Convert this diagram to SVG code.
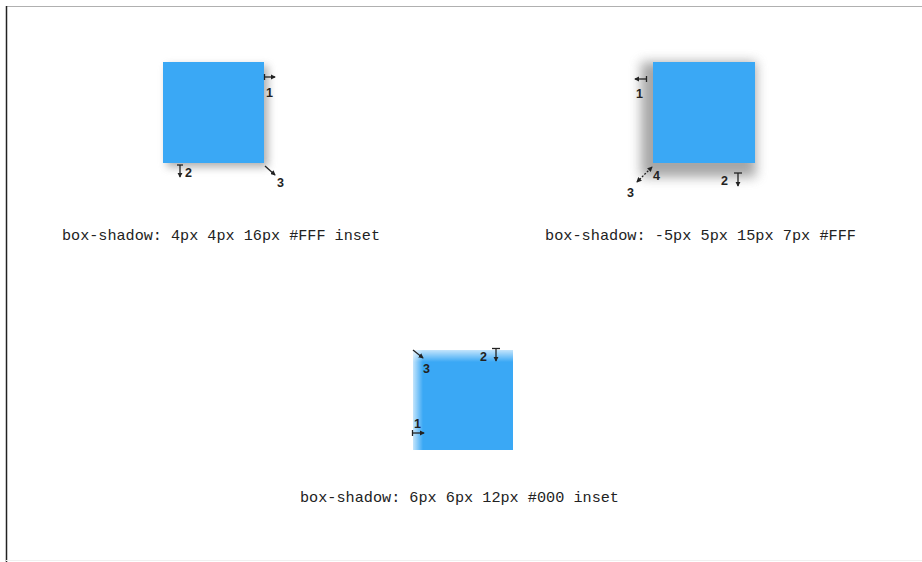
<svg xmlns="http://www.w3.org/2000/svg" width="922" height="562" viewBox="0 0 922 562">
<defs>
<style>
.cap{font-family:"Liberation Mono","DejaVu Sans Mono",monospace;font-size:15px;fill:#222;}
.num{font-family:"Liberation Sans",Arial,sans-serif;font-size:12.5px;font-weight:bold;fill:#222;}
.arr{stroke:#222;stroke-width:1.3;fill:none;}
.box{fill:#3aa8f5;}
</style>
<marker id="ah" viewBox="0 0 6 6" refX="5" refY="3" markerWidth="4" markerHeight="4" orient="auto-start-reverse">
<path d="M0,0 L6,3 L0,6 z" fill="#222"/>
</marker>
<filter id="sh1" x="-30%" y="-30%" width="160%" height="160%">
<feGaussianBlur stdDeviation="4"/>
</filter>
<filter id="sh2" x="-40%" y="-40%" width="180%" height="180%">
<feGaussianBlur stdDeviation="6"/>
</filter>
<linearGradient id="gTop" x1="0" y1="0" x2="0" y2="1">
<stop offset="0" stop-color="#fff" stop-opacity="0.7"/>
<stop offset="1" stop-color="#fff" stop-opacity="0"/>
</linearGradient>
<linearGradient id="gLeft" x1="0" y1="0" x2="1" y2="0">
<stop offset="0" stop-color="#fff" stop-opacity="0.7"/>
<stop offset="1" stop-color="#fff" stop-opacity="0"/>
</linearGradient>
</defs>
<rect width="922" height="562" fill="#fff"/>
<line x1="6" y1="6.5" x2="922" y2="6.5" stroke="#b0b0b0" stroke-width="1"/>
<line x1="6.5" y1="6" x2="6.5" y2="562" stroke="#222" stroke-width="1.5"/>
<line x1="6" y1="560.5" x2="922" y2="560.5" stroke="#f0f0f0" stroke-width="1"/>

<g id="node1">
<rect x="167" y="66" width="101" height="101" fill="#777" opacity="0.6" filter="url(#sh1)"/>
<rect class="box" x="163" y="62" width="101" height="101"/>
<text class="cap" x="62" y="240" textLength="318" lengthAdjust="spacingAndGlyphs">box-shadow: 4px 4px 16px #FFF inset</text>
</g>

<g id="node2">
<rect x="641" y="62" width="115" height="115" fill="#777" opacity="0.65" filter="url(#sh2)"/>
<rect class="box" x="653" y="62" width="102" height="101"/>
<text class="cap" x="545" y="240" textLength="311" lengthAdjust="spacingAndGlyphs">box-shadow: -5px 5px 15px 7px #FFF</text>
</g>

<g id="node3">
<rect class="box" x="413" y="350" width="100" height="100"/>
<rect x="413" y="350" width="100" height="12" fill="url(#gTop)"/>
<rect x="413" y="350" width="10" height="100" fill="url(#gLeft)"/>
<text class="cap" x="300" y="502" textLength="319" lengthAdjust="spacingAndGlyphs">box-shadow: 6px 6px 12px #000 inset</text>
</g>

<g id="connectors">
<line class="arr" x1="264.5" y1="74" x2="264.5" y2="80"/>
<line class="arr" x1="265" y1="77" x2="275" y2="77" marker-end="url(#ah)"/>
<line class="arr" x1="177" y1="165" x2="183" y2="165"/>
<line class="arr" x1="180" y1="165" x2="180" y2="177" marker-end="url(#ah)"/>
<line class="arr" x1="265" y1="166" x2="275" y2="175" marker-end="url(#ah)"/>
<line class="arr" x1="646.5" y1="76" x2="646.5" y2="82"/>
<line class="arr" x1="646" y1="79" x2="635" y2="79" marker-end="url(#ah)"/>
<line class="arr" x1="734" y1="173" x2="742" y2="173"/>
<line class="arr" x1="738" y1="173" x2="738" y2="186" marker-end="url(#ah)"/>
<line class="arr" x1="637" y1="182" x2="652" y2="167" stroke-dasharray="2 1.5" marker-start="url(#ah)" marker-end="url(#ah)"/>
<line class="arr" x1="413" y1="350" x2="423" y2="358" marker-end="url(#ah)"/>
<line class="arr" x1="492" y1="348.5" x2="500" y2="348.5"/>
<line class="arr" x1="496" y1="349" x2="496" y2="361" marker-end="url(#ah)"/>
<line class="arr" x1="412.5" y1="430" x2="412.5" y2="436"/>
<line class="arr" x1="413" y1="433" x2="424" y2="433" marker-end="url(#ah)"/>
</g>

<g id="labels">
<text class="num" x="266" y="97">1</text>
<text class="num" x="185" y="177">2</text>
<text class="num" x="277" y="187">3</text>
<text class="num" x="636" y="98">1</text>
<text class="num" x="721" y="185">2</text>
<text class="num" x="627" y="197">3</text>
<text class="num" x="653" y="180">4</text>
<text class="num" x="423" y="373">3</text>
<text class="num" x="480" y="361">2</text>
<text class="num" x="414" y="428">1</text>
</g>
</svg>
